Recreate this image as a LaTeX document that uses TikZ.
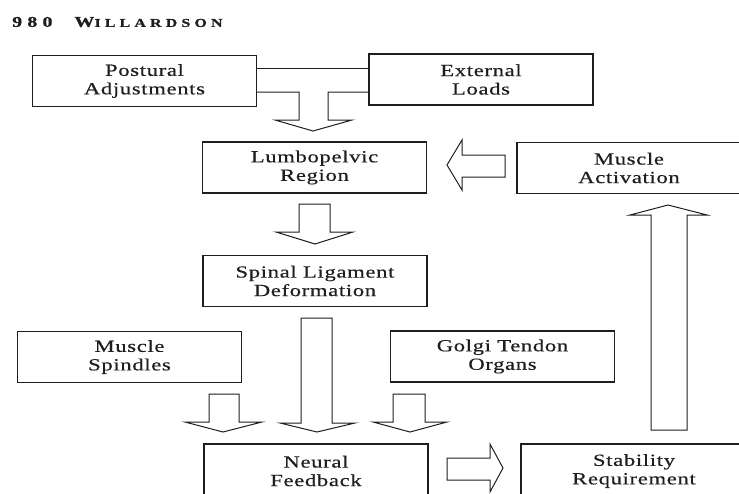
\documentclass[tikz,border=0pt]{standalone}
\usepackage{fontspec}
\usepackage{graphicx}
\setmainfont{Liberation Serif}
\newfontfamily\boxfont[LetterSpace=3,FakeBold=0.4]{Liberation Serif}
\newfontfamily\headfont[LetterSpace=26,FakeBold=0.8]{Liberation Serif}
\newcommand\widetxt[1]{\scalebox{1.33}[1]{#1}}
\definecolor{ink}{RGB}{30,30,30}
\begin{document}
\begin{tikzpicture}[x=1pt,y=-1pt,
  box/.style={draw=ink, line width=1.1pt, inner sep=0pt, align=center,
    text=ink, font=\boxfont\fontsize{17}{18.5}\selectfont,
    minimum width=224pt, minimum height=51pt},
  boxtext/.style={text=ink, font=\boxfont\fontsize{17}{18.5}\selectfont, align=center, inner sep=0pt},
  blockarrow/.style={draw=ink, line width=1pt, fill=white, line join=miter}]
\useasboundingbox (0,0) rectangle (739,493);
\clip (0,0) rectangle (739,493);

% header
\node[anchor=west, inner sep=0pt, text=ink, font=\headfont\bfseries] (head) at (12,22)
  {\widetxt{\fontsize{15}{15}\selectfont 980}\hspace{22pt}\widetxt{\fontsize{15}{15}\selectfont W\fontsize{12}{15}\selectfont ILLARDSON}};

% boxes
\node[box] (post) at (144.5,81) {\widetxt{Postural}\\\widetxt{Adjustments}};
\node[box] (ext) at (481,79.5) {\widetxt{External}\\\widetxt{Loads}};
\node[box] (lumbo) at (314.5,167.5) {\widetxt{Lumbopelvic}\\\widetxt{Region}};
\node[box] (act) at (629,168) {\widetxt{Muscle}\\\widetxt{Activation}};
\node[box] (spinal) at (315,281) {\widetxt{Spinal Ligament}\\\widetxt{Deformation}};
\node[box] (spind) at (129.5,357) {\widetxt{Muscle}\\\widetxt{Spindles}};
\node[box] (golgi) at (502.5,356.5) {\widetxt{Golgi Tendon}\\\widetxt{Organs}};
\node[box, minimum height=70pt] (neural) at (316,479) {};
\node[box, minimum height=70pt] (stab) at (633,479) {};
\node[boxtext] (neuraltxt) at (316,471) {\widetxt{Neural}\\\widetxt{Feedback}};
\node[boxtext] (stabtxt) at (634,471) {\widetxt{Stability}\\\widetxt{Requirement}};

% merging T arrow from Postural Adjustments and External Loads
\draw[ink, line width=1pt] (post.east |- 0,68) -- (ext.west |- 0,68);
\draw[ink, line width=1pt, line join=miter] (post.east |- 0,92) -- (299,92) -- (299,120) -- (275,120)
  -- (313,131) -- (352,120) -- (328,120) -- (328,92) -- (ext.west |- 0,92);

% Lumbopelvic -> Spinal
\draw[blockarrow] (299,204) -- (299,232) -- (276,232) -- (315,244) -- (353,232) -- (330,232) -- (330,204) -- cycle;
% Spinal -> Neural (long)
\draw[blockarrow] (301,318) -- (301,423) -- (280,423) -- (317,432) -- (355,423) -- (332,423) -- (332,318) -- cycle;
% Spindles -> Neural
\draw[blockarrow] (209,394) -- (209,422) -- (185,422) -- (223,432) -- (262,422) -- (239,422) -- (239,394) -- cycle;
% Golgi -> Neural
\draw[blockarrow] (393,394) -- (393,422) -- (373,422) -- (410,432) -- (447,422) -- (425,422) -- (425,394) -- cycle;
% Neural -> Stability
\draw[blockarrow] (447,458) -- (490,458) -- (490,444) -- (503,468) -- (490,492) -- (490,480) -- (447,480) -- cycle;
% Stability -> Muscle Activation
\draw[blockarrow] (651,430) -- (651,215) -- (630,215) -- (668,205) -- (707,215) -- (687,215) -- (687,430) -- cycle;
% Muscle Activation -> Lumbopelvic
\draw[blockarrow] (505,155) -- (462,155) -- (462,140) -- (447,165) -- (462,190) -- (462,177) -- (505,177) -- cycle;
\end{tikzpicture}
\end{document}
